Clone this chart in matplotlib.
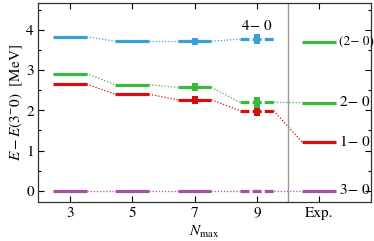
import numpy as np
import matplotlib
matplotlib.use('Agg')
from matplotlib import pyplot as plt

plt.rcParams['font.family'] = ['STIXGeneral', 'DejaVu Serif']
plt.rcParams['mathtext.fontset'] = 'stix'

xlabels = ['3', '5', '7', '9', 'Exp.']
calc_pos = [0, 1, 2, 3]
exp_pos = 4

# calculated levels (MeV), Nmax = 3,5,7,9
lvl_40 = [3.83, 3.72, 3.72, 3.77]
lvl_20 = [2.91, 2.64, 2.57, 2.20]
lvl_10 = [2.65, 2.40, 2.26, 1.99]
lvl_30 = [0.0, 0.0, 0.0, 0.0]
# extrapolation uncertainties at Nmax = 7, 9
err_40 = [0.09, 0.13]
err_20 = [0.10, 0.14]
err_10 = [0.10, 0.13]

# experiment
exp_20b = 3.71
exp_20 = 2.19
exp_10 = 1.20
exp_30 = 0.0

c_blue = '#3a9fd8'
c_green = '#3cb83c'
c_red = '#d40d0d'
c_purple = '#a552a5'

fig = plt.figure(figsize=(3.74, 2.41), dpi=100)
ax = fig.add_axes([0.1016, 0.162, 0.8904, 0.8256])

hw = 0.27


def level_series(vals, errs, col, exp_val=None):
    xs = list(calc_pos)
    ys = list(vals)
    if exp_val is not None:
        xs.append(exp_pos)
        ys.append(exp_val)
    for i, (x, y) in enumerate(zip(xs, ys)):
        ls = (0, (2.8, 1.0)) if x == 3 else '-'
        ax.plot([x - hw, x + hw], [y, y], color=col, lw=2.3, ls=ls,
                solid_capstyle='butt', dash_capstyle='butt')
        if i + 1 < len(xs):
            ax.plot([x + hw, xs[i + 1] - hw], [y, ys[i + 1]], color=col,
                    lw=0.9, ls=(0, (1, 1.5)))
    if errs is not None:
        ax.errorbar([2, 3], [vals[2], vals[3]], yerr=errs, fmt='none',
                    ecolor=col, elinewidth=4.3, capsize=0)


level_series(lvl_30, None, c_purple, exp_30)
level_series(lvl_10, err_10, c_red, exp_10)
level_series(lvl_20, err_20, c_green, exp_20)
level_series(lvl_40, err_40, c_blue)
ax.plot([exp_pos - hw, exp_pos + hw], [exp_20b, exp_20b], color=c_green,
        lw=2.3, solid_capstyle='butt')

ax.axvline(3.5, color='#999999', lw=1)

fs = 11
ax.text(3, 3.93, '4− 0', ha='center', va='bottom', fontsize=fs)
ax.text(4.31, exp_20b, '(2− 0)', ha='left', va='center', fontsize=9.5)
ax.text(4.33, exp_20, '2− 0', ha='left', va='center', fontsize=fs)
ax.text(4.33, exp_10, '1− 0', ha='left', va='center', fontsize=fs)
ax.text(4.33, exp_30, '3− 0', ha='left', va='center', fontsize=fs)

ax.set_xlim(-0.51, 4.83)
ax.set_ylim(-0.28, 4.67)
ax.set_xticks(range(5))
ax.set_xticklabels(xlabels, fontsize=fs)
ax.set_yticks([0, 1, 2, 3, 4])
ax.set_yticks(np.arange(0.5, 4.6, 1.0), minor=True)
ax.tick_params(axis='both', which='both', direction='in', top=True,
               right=True, labelsize=fs, pad=3)
ax.tick_params(which='major', length=4, width=0.8)
ax.tick_params(which='minor', length=2.5, width=0.8)
for s in ax.spines.values():
    s.set_linewidth(0.9)
    s.set_color('#333333')

ax.set_xlabel(r'$N_{\mathrm{max}}$', fontsize=fs, labelpad=3)
ax.set_ylabel(r'$E-E(3^{-}0)$  [MeV]', fontsize=fs, labelpad=1)

fig.savefig('out.png', dpi=100)
